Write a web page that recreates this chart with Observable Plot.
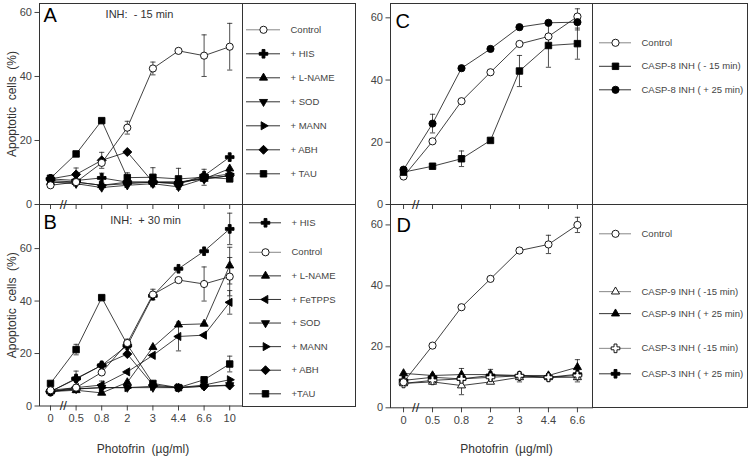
<!DOCTYPE html>
<html><head><meta charset="utf-8">
<script src="https://cdn.jsdelivr.net/npm/d3@7"></script>
<script src="https://cdn.jsdelivr.net/npm/@observablehq/plot@0.6"></script>
<style>
body{margin:0;background:#fff;}
#fig{position:relative;width:750px;height:457px;overflow:hidden;background:#fff;}
#fig svg{position:absolute;overflow:visible;}
#fig svg text{white-space:pre;}
</style></head><body><div id="fig"></div>
<script>
// ---------- categories / ticks ----------
const doseAB = ["0","0.5","0.8","2","3","4.4","6.6","10"];
const doseCD = ["0","0.5","0.8","2","3","4.4","6.6"];
const yTicks = [0, 20, 40, 60];

// ---------- Panel A (INH: -15 min) ----------
const aControl = [6, 7, 13, 24, 42.5, 48, 46.5, 49.3];
const aControlErr = [0, 0, 0, 2, 2, 0, 6.5, 7.3];
const aHIS = [8, 7.5, 8.3, 7, 7, 6.5, 9, 14.8];
const aHISErr = [0, 0, 1.5, 0, 0, 0, 0, 0];
const aLNAME = [7, 7, 6, 7, 7, 7, 8, 11.2];
const aSOD = [7, 6.5, 5.3, 6, 6.5, 5.5, 8, 9];
const aMANN = [7.5, 7, 6, 6.5, 7, 6.5, 8.5, 9.5];
const aABH = [8, 9.4, 13.8, 16.4, 7, 7, 8, 9];
const aABHErr = [0, 2, 2.5, 0, 0, 0, 0, 0];
const aTAU = [8.2, 15.8, 26.2, 8.4, 8.5, 8, 8.5, 8];
const aTAUErr = [0, 0, 0, 1.5, 3, 3.3, 2.5, 0];

// ---------- Panel B (INH: +30 min) ----------
const bHIS = [5.5, 10.5, 15.5, 23, 42, 52.3, 59, 67.5];
const bHISErr = [0, 0, 0, 0, 0, 0, 0, 6];
const bControl = [6, 7, 12.8, 24, 42.5, 48, 46.5, 49.3];
const bControlErr = [0, 0, 0, 1.5, 2, 0, 6.5, 7.3];
const bLNAME = [5.5, 6, 5, 9, 22.4, 31, 31.3, 53.5];
const bLNAMEErr = [0, 0, 0, 0, 0, 0, 0, 7];
const bFeTPPS = [5.5, 7, 8, 13, 19.3, 26.5, 27, 39.5];
const bFeTPPSErr = [0, 0, 0, 0, 0, 5.5, 0, 4.5];
const bSOD = [5.5, 6.5, 7, 7, 7, 7, 7.5, 8];
const bSODErr = [0, 0, 2.5, 0, 0, 0, 0, 0];
const bMANN = [5.5, 6.5, 7, 7, 7.5, 7, 8, 10];
const bABH = [5.5, 10.3, 15.5, 19.8, 8, 7, 7.5, 7.8];
const bABHErr = [0, 3, 0, 0, 0, 0, 0, 0];
const bTAU = [8.6, 21.5, 41.3, 23.4, 8.6, 7, 10, 16];
const bTAUErr = [0, 2, 0, 0, 0, 0, 0, 3];

// ---------- Panel C (CASP-8) ----------
const cControl = [9, 20.3, 33.2, 42.5, 51.6, 54, 60.4];
const cControlErr = [0, 0, 0, 0, 0, 0, 2.5];
const cC8m15 = [10.4, 12.3, 14.7, 20.6, 42.9, 51.1, 51.7];
const cC8m15Err = [0, 0, 2.5, 0, 5, 7, 5];
const cC8p25 = [11.2, 26, 43.8, 50, 57, 58.4, 58.6];
const cC8p25Err = [0, 3, 0, 0, 0, 0, 2.5];

// ---------- Panel D (CASP-9 / CASP-3) ----------
const dControl = [8.4, 20.4, 33, 42.3, 51.6, 53.6, 60];
const dControlErr = [0, 0, 0, 0, 0, 3, 2.5];
const dC9m15 = [8, 8.5, 7.3, 8.5, 10, 10, 10];
const dC9m15Err = [0, 0, 3, 0, 1.5, 0, 1.5];
const dC9p25 = [11.3, 10.6, 10.9, 10.9, 10.6, 10.6, 13.3];
const dC9p25Err = [0, 0, 2, 0, 0, 0, 2.5];
const dC3m15 = [8, 9, 9.5, 10, 10.5, 10, 10.6];
const dC3p25 = [9, 10, 9.5, 10.6, 10.5, 10, 11];
const dC3p25Err = [0, 0, 0, 2, 0, 0, 0];

// ---------- symbols ----------
function tri(angle){return {draw(ctx,size){const r=Math.sqrt(size/Math.PI),R=1.3*r;for(let k=0;k<3;k++){const a=(angle-90+k*120)*Math.PI/180,x=R*Math.cos(a),y=R*Math.sin(a);k?ctx.lineTo(x,y):ctx.moveTo(x,y);}ctx.closePath();}};}
const symCircle={draw(ctx,size){const r=Math.sqrt(size/Math.PI);ctx.moveTo(r,0);ctx.arc(0,0,r,0,2*Math.PI);ctx.closePath();}};
const symSquare={draw(ctx,size){const h=0.9*Math.sqrt(size/Math.PI);ctx.rect(-h,-h,2*h,2*h);}};
const symDiamond={draw(ctx,size){const h=1.25*Math.sqrt(size/Math.PI);ctx.moveTo(0,-h);ctx.lineTo(h,0);ctx.lineTo(0,h);ctx.lineTo(-h,0);ctx.closePath();}};
const symCross={draw(ctx,size){const r=Math.sqrt(size/Math.PI),a=1.2*r,t=0.4*r;ctx.moveTo(-a,-t);ctx.lineTo(-t,-t);ctx.lineTo(-t,-a);ctx.lineTo(t,-a);ctx.lineTo(t,-t);ctx.lineTo(a,-t);ctx.lineTo(a,t);ctx.lineTo(t,t);ctx.lineTo(t,a);ctx.lineTo(-t,a);ctx.lineTo(-t,t);ctx.lineTo(-a,t);ctx.closePath();}};
const symCap={draw(ctx){ctx.moveTo(-2.6,0);ctx.lineTo(2.6,0);}};
const marker = {
  oc:{symbol:symCircle,fill:"white",open:true},
  fc:{symbol:symCircle,fill:"#000"},
  cross:{symbol:symCross,fill:"#000"},
  ocross:{symbol:symCross,fill:"white",open:true},
  tu:{symbol:tri(0),fill:"#000"},
  otu:{symbol:tri(0),fill:"white",open:true},
  td:{symbol:tri(180),fill:"#000"},
  tl:{symbol:tri(-90),fill:"#000"},
  tr:{symbol:tri(90),fill:"#000"},
  dia:{symbol:symDiamond,fill:"#000"},
  sq:{symbol:symSquare,fill:"#000"}
};

const FONT = "'Liberation Sans', Arial, Helvetica, sans-serif";
const fig = document.getElementById("fig");
function place(svg,left,top){svg.style.left=left+"px";svg.style.top=top+"px";fig.appendChild(svg);}

function panel(c){
  const marks=[Plot.frame({stroke:"#333",strokeWidth:1})];
  const order=c.series.map((s,k)=>k);
  c.series.forEach(s=>{
    const rows=s.values.map((v,i)=>({i,y:v,e:s.err?s.err[i]:0}));
    s.rows=rows;
    marks.push(Plot.line(rows,{x:"i",y:"y",stroke:"#111",strokeWidth:0.8}));
  });
  c.series.forEach(s=>{
    const er=s.rows.filter(d=>d.e>0);
    if(!er.length)return;
    marks.push(Plot.ruleX(er,{x:"i",y1:d=>d.y-d.e,y2:d=>d.y+d.e,stroke:"#222",strokeWidth:0.8}));
    marks.push(Plot.dot(er,{x:"i",y:d=>d.y+d.e,symbol:symCap,r:3,fill:"none",stroke:"#222",strokeWidth:0.8}));
    marks.push(Plot.dot(er,{x:"i",y:d=>d.y-d.e,symbol:symCap,r:3,fill:"none",stroke:"#222",strokeWidth:0.8}));
  });
  const drawOrder=c.drawOrder||order;
  drawOrder.forEach(k=>{
    const s=c.series[k],m=marker[s.mark];
    marks.push(Plot.dot(s.rows,{x:"i",y:"y",symbol:m.symbol,r:3.6,fill:m.fill,stroke:"#000",strokeWidth:0.9}));
  });
  marks.push(Plot.text(["//"],{x:c.breakAt,y:0,text:d=>d,fontSize:13,lineAnchor:"middle",fill:"#222"}));
  marks.push(Plot.text([c.letter],{text:d=>d,frameAnchor:"top-left",textAnchor:"start",lineAnchor:"top",dx:c.letterDx,dy:c.letterDy,fontSize:20,fill:"#000"}));
  if(c.note) marks.push(Plot.text([c.note],{text:d=>d,frameAnchor:"top",textAnchor:"middle",lineAnchor:"middle",dx:c.noteDx,dy:c.noteDy,fontSize:11,fill:"#333"}));
  if(c.yLabel) marks.push(Plot.text([c.yLabel],{text:d=>d,frameAnchor:"left",textAnchor:"middle",lineAnchor:"middle",rotate:-90,dx:c.yLabelDx,fontSize:12,fill:"#333"}));
  if(c.xLabel) marks.push(Plot.text([c.xLabel],{text:d=>d,frameAnchor:"bottom",textAnchor:"middle",lineAnchor:"middle",dx:c.xLabelDx,dy:c.xLabelDy,fontSize:12,fill:"#333"}));
  const svg=Plot.plot({
    width:c.width,height:c.height,
    marginLeft:c.mL,marginRight:c.mR,marginTop:c.mT,marginBottom:c.mB,
    style:`background:transparent;overflow:visible;font-family:${FONT};font-size:11px;color:#444;`,
    x:{type:"linear",domain:c.xDomain,ticks:d3.range(c.cats.length),tickFormat:c.xLabels?(i=>c.cats[i]):(()=>""),tickSize:5,tickPadding:3,label:null},
    y:{domain:c.yDomain,ticks:yTicks,tickSize:4.5,tickPadding:3,label:null},
    marks
  });
  place(svg,c.left,c.top);
}

function legend(c){
  const items=c.series.map((s,k)=>({name:s.name,mark:s.mark,row:c.rows[k]}));
  const marks=[Plot.frame({stroke:"#333",strokeWidth:1})];
  items.forEach(d=>{
    const m=marker[d.mark];
    marks.push(Plot.ruleY([d],{y:"row",x1:0,x2:1,stroke:m.open?"#888":"#333",strokeWidth:1}));
    marks.push(Plot.dot([d],{x:0.5,y:"row",symbol:m.symbol,r:3.6,fill:m.fill,stroke:"#000",strokeWidth:0.9}));
  });
  marks.push(Plot.text(items,{x:1,y:"row",text:"name",textAnchor:"start",lineAnchor:"middle",dx:10,fontSize:9.5,fill:"#444"}));
  const svg=Plot.plot({
    width:c.width,height:c.height,margin:0,
    style:`background:transparent;overflow:visible;font-family:${FONT};font-size:10px;color:#444;`,
    x:{type:"linear",domain:[0,1],range:c.lineRange,axis:null},
    y:{type:"linear",domain:c.rowDomain,range:c.rowRange,axis:null},
    marks
  });
  place(svg,c.left,c.top);
}

const seriesA=[
  {name:"Control",values:aControl,err:aControlErr,mark:"oc"},
  {name:"+ HIS",values:aHIS,err:aHISErr,mark:"cross"},
  {name:"+ L-NAME",values:aLNAME,mark:"tu"},
  {name:"+ SOD",values:aSOD,mark:"td"},
  {name:"+ MANN",values:aMANN,mark:"tr"},
  {name:"+ ABH",values:aABH,err:aABHErr,mark:"dia"},
  {name:"+ TAU",values:aTAU,err:aTAUErr,mark:"sq"}
];
const seriesB=[
  {name:"+ HIS",values:bHIS,err:bHISErr,mark:"cross"},
  {name:"Control",values:bControl,err:bControlErr,mark:"oc"},
  {name:"+ L-NAME",values:bLNAME,err:bLNAMEErr,mark:"tu"},
  {name:"+ FeTPPS",values:bFeTPPS,err:bFeTPPSErr,mark:"tl"},
  {name:"+ SOD",values:bSOD,err:bSODErr,mark:"td"},
  {name:"+ MANN",values:bMANN,mark:"tr"},
  {name:"+ ABH",values:bABH,err:bABHErr,mark:"dia"},
  {name:"+TAU",values:bTAU,err:bTAUErr,mark:"sq"}
];
const seriesC=[
  {name:"Control",values:cControl,err:cControlErr,mark:"oc"},
  {name:"CASP-8 INH ( - 15 min)",values:cC8m15,err:cC8m15Err,mark:"sq"},
  {name:"CASP-8 INH ( + 25 min)",values:cC8p25,err:cC8p25Err,mark:"fc"}
];
const seriesD=[
  {name:"Control",values:dControl,err:dControlErr,mark:"oc"},
  {name:"CASP-9 INH ( -15 min)",values:dC9m15,err:dC9m15Err,mark:"otu"},
  {name:"CASP-9 INH ( + 25 min)",values:dC9p25,err:dC9p25Err,mark:"tu"},
  {name:"CASP-3 INH ( -15 min)",values:dC3m15,mark:"ocross"},
  {name:"CASP-3 INH ( + 25 min)",values:dC3p25,err:dC3p25Err,mark:"cross"}
];

panel({left:0,top:0,width:244,height:212,mL:39,mR:2,mT:3,mB:8,cats:doseAB,xLabels:false,
  xDomain:[-0.43,7.5],yDomain:[0,62.8],series:seriesA,drawOrder:[1,2,3,4,5,6,0],breakAt:0.5,
  letter:"A",letterDx:4,letterDy:4,note:"INH:  - 15 min",noteDx:-1.5,noteDy:11,
  yLabel:"Apoptotic  cells  (%)",yLabelDx:-27});
panel({left:0,top:200,width:244,height:257,mL:39,mR:2,mT:4,mB:51.5,cats:doseAB,xLabels:true,
  xDomain:[-0.43,7.5],yDomain:[0,76.8],series:seriesB,drawOrder:[0,2,3,4,5,6,7,1],breakAt:0.5,
  letter:"B",letterDx:4,letterDy:10,note:"INH:  + 30 min",noteDx:4.5,noteDy:16,
  yLabel:"Apoptotic  cells  (%)",yLabelDx:-27,xLabel:"Photofrin  (µg/ml)",xLabelDx:2,xLabelDy:43.5});
panel({left:355,top:0,width:239,height:212,mL:35,mR:2,mT:3,mB:8,cats:doseCD,xLabels:false,
  xDomain:[-0.45,6.52],yDomain:[0,64.6],series:seriesC,breakAt:0.42,
  letter:"C",letterDx:5,letterDy:10});
panel({left:355,top:200,width:239,height:257,mL:35,mR:2,mT:4,mB:49.7,cats:doseCD,xLabels:true,
  xDomain:[-0.45,6.52],yDomain:[0,66.7],series:seriesD,drawOrder:[2,4,1,3,0],breakAt:0.42,
  letter:"D",letterDx:6,letterDy:13,xLabel:"Photofrin  (µg/ml)",xLabelDx:15,xLabelDy:41.7});

legend({left:242,top:3,width:113,height:201,series:seriesA,rows:[0,1,2,3,4,5,6],rowDomain:[0,6],rowRange:[26.3,170.3],lineRange:[4,38]});
legend({left:242,top:204,width:113,height:202,series:seriesB,rows:[0,1.25,2.25,3.25,4.25,5.25,6.25,7.25],rowDomain:[0,7.25],rowRange:[18.3,189.3],lineRange:[7,39]});
legend({left:592,top:3,width:155,height:201,series:seriesC,rows:[0,1,2],rowDomain:[0,2],rowRange:[39.3,86.3],lineRange:[7,39]});
legend({left:592,top:204,width:155,height:203,series:seriesD,rows:[0,2.5,3.45,4.95,6.05],rowDomain:[0,6.05],rowRange:[29.3,169.3],lineRange:[7,39]});
</script></body></html>
